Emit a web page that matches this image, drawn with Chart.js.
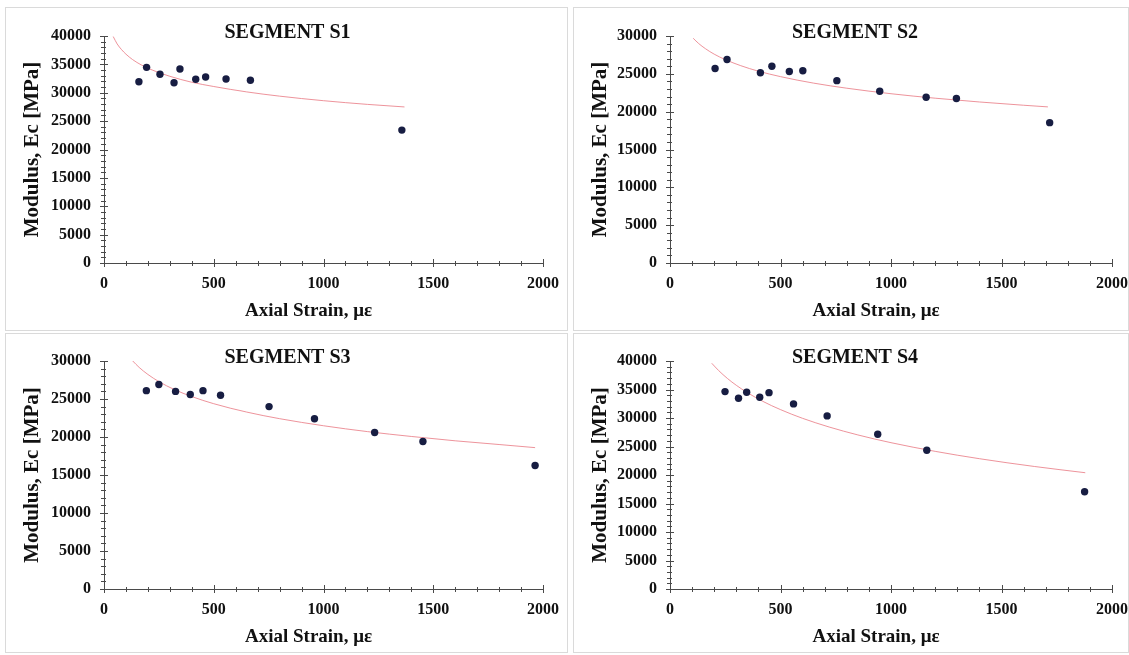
<!DOCTYPE html>
<html><head><meta charset="utf-8">
<script src="https://cdn.jsdelivr.net/npm/chart.js@4.4.0/dist/chart.umd.min.js"></script>
<style>
html,body{margin:0;padding:0;background:#fff;width:1129px;height:655px;overflow:hidden}
.panel{position:absolute;border:1px solid #dadada;box-sizing:border-box;background:#fff}
canvas{display:block}
</style></head><body>
<div class="panel" style="left:5px;top:7px;width:563px;height:324px"><canvas id="c1" width="561" height="322"></canvas></div>
<div class="panel" style="left:573px;top:7px;width:556px;height:324px"><canvas id="c2" width="554" height="322"></canvas></div>
<div class="panel" style="left:5px;top:333px;width:563px;height:320px"><canvas id="c3" width="561" height="318"></canvas></div>
<div class="panel" style="left:573px;top:333px;width:556px;height:320px"><canvas id="c4" width="554" height="318"></canvas></div>
<script>
// ---- data ----
const panelTitles = ['SEGMENT S1', 'SEGMENT S2', 'SEGMENT S3', 'SEGMENT S4'];
const xAxisTitle = 'Axial Strain, με';
const yAxisTitle = 'Modulus, Ec [MPa]';
const xTickLabels = ['0', '500', '1000', '1500', '2000'];
const yTickLabels40k = ['0', '5000', '10000', '15000', '20000', '25000', '30000', '35000', '40000'];
const yTickLabels30k = ['0', '5000', '10000', '15000', '20000', '25000', '30000'];

// Segment S1
const s1Strain  = [159, 194, 255, 319, 346, 418, 463, 556, 667, 1357];
const s1Modulus = [31950, 34480, 33250, 31770, 34180, 32370, 32780, 32420, 32190, 23420];
const s1FitStrain  = [42, 60, 80, 100, 130, 170, 220, 300, 400, 500, 650, 800, 1000, 1200, 1369];
const s1FitModulus = [39900, 38600, 37600, 36800, 35850, 34900, 34000, 32900, 31850, 31100, 30150, 29400, 28600, 27950, 27500];

// Segment S2
const s2Strain  = [204, 258, 409, 461, 540, 601, 755, 949, 1159, 1296, 1718];
const s2Modulus = [25700, 26900, 25150, 26000, 25300, 25400, 24100, 22700, 21900, 21750, 18550];
const s2FitStrain  = [105, 130, 160, 200, 250, 320, 400, 500, 650, 800, 1000, 1200, 1400, 1600, 1710];
const s2FitModulus = [29700, 29000, 28330, 27600, 26880, 26080, 25350, 24630, 23770, 23100, 22370, 21780, 21280, 20850, 20630];

// Segment S3
const s3Strain  = [193, 250, 326, 393, 451, 531, 752, 959, 1233, 1453, 1964];
const s3Modulus = [26100, 26900, 26000, 25600, 26100, 25500, 24000, 22400, 20600, 19400, 16250];
const s3FitStrain  = [131, 160, 200, 250, 320, 400, 500, 650, 800, 1000, 1200, 1400, 1600, 1800, 1964];
const s3FitModulus = [30000, 29160, 28230, 27290, 26250, 25320, 24380, 23280, 22410, 21480, 20710, 20070, 19500, 19010, 18600];

// Segment S4
const s4Strain  = [249, 310, 347, 406, 448, 559, 711, 940, 1162, 1876];
const s4Modulus = [34630, 33460, 34510, 33630, 34450, 32470, 30370, 27150, 24350, 17050];
const s4FitStrain  = [189, 220, 260, 300, 350, 420, 500, 600, 720, 850, 1000, 1200, 1400, 1650, 1879];
const s4FitModulus = [39600, 38330, 36930, 35740, 34450, 32920, 31470, 29940, 28420, 27030, 25670, 24150, 22860, 21490, 20400];

// ---- drawing ----
const SERIF = '"Liberation Serif", "Times New Roman", serif';
const AXIS_COLOR = '#4a4a4a';

const decoPlugin = {
  id: 'panelDeco',
  afterDraw(chart, args, opts) {
    const {ctx, chartArea: a, scales: {x, y}} = chart;
    ctx.save();
    ctx.strokeStyle = AXIS_COLOR;
    ctx.lineWidth = 1;
    // x tick marks (major every 500, minor every 100)
    for (let v = x.min; v <= x.max; v += opts.xMinor) {
      const px = Math.round(x.getPixelForValue(v)) + 0.5;
      const major = v % opts.xMajor === 0;
      ctx.beginPath();
      ctx.moveTo(px, a.bottom - (major ? 4 : 2));
      ctx.lineTo(px, a.bottom + (major ? 4 : 3));
      ctx.stroke();
    }
    // y tick marks (major every 5000, minor every 1000)
    for (let v = y.min; v <= y.max; v += opts.yMinor) {
      const py = Math.round(y.getPixelForValue(v)) + 0.5;
      const major = v % opts.yMajor === 0;
      ctx.beginPath();
      ctx.moveTo(a.left - (major ? 4 : 3), py);
      ctx.lineTo(a.left + (major ? 4 : 2), py);
      ctx.stroke();
    }
    ctx.fillStyle = '#111';
    ctx.textAlign = 'center';
    ctx.textBaseline = 'middle';
    const cx = (a.left + a.right) / 2;
    ctx.font = 'bold 20px ' + SERIF;
    ctx.fillText(opts.title, cx - 36, a.top - 3);
    ctx.font = 'bold 19px ' + SERIF;
    ctx.fillText(xAxisTitle, cx - 15, a.bottom + 48);
    ctx.translate(27, (a.top + a.bottom) / 2);
    ctx.rotate(-Math.PI / 2);
    ctx.font = 'bold 21px ' + SERIF;
    ctx.fillText(yAxisTitle, 0, 0);
    ctx.restore();
  }
};

function toPts(xs, ys) { return xs.map((v, i) => ({x: v, y: ys[i]})); }

function makeChart(id, c) {
  return new Chart(document.getElementById(id), {
    type: 'scatter',
    data: {
      datasets: [
        { data: toPts(c.ptX, c.ptY), pointRadius: 3.7, pointBackgroundColor: '#171d42',
          pointBorderColor: '#171d42', pointBorderWidth: 0, showLine: false, order: 1 },
        { data: toPts(c.fitX, c.fitY), showLine: true, borderColor: 'rgba(232,120,130,0.8)',
          borderWidth: 1, pointRadius: 0, cubicInterpolationMode: 'monotone', fill: false, order: 2 }
      ]
    },
    options: {
      responsive: false, animation: false, events: [],
      layout: { padding: { left: 0, top: c.top, right: c.right, bottom: 0 } },
      plugins: {
        legend: { display: false }, tooltip: { enabled: false }, title: { display: false },
        panelDeco: { title: c.title, xMinor: 100, xMajor: 500, yMinor: 1000, yMajor: 5000 }
      },
      scales: {
        x: {
          type: 'linear', position: 'bottom', min: 0, max: 2000,
          ticks: { stepSize: 500, padding: 11, color: '#111', maxRotation: 0, autoSkip: false,
                   font: { family: SERIF, size: 16, weight: 'bold' },
                   callback: (v) => xTickLabels[Math.round(v / 500)] },
          grid: { display: false, drawTicks: false },
          border: { display: true, color: AXIS_COLOR, width: 1 },
          afterFit: (s) => { s.height = c.xh; s.paddingLeft = 0; s.paddingRight = 0; }
        },
        y: {
          type: 'linear', position: 'left', min: 0, max: c.ymax,
          ticks: { stepSize: 5000, padding: 13, color: '#111',
                   font: { family: SERIF, size: 16, weight: 'bold' },
                   callback: (v) => c.yLabels[Math.round(v / 5000)] },
          grid: { display: false, drawTicks: false },
          border: { display: true, color: AXIS_COLOR, width: 1 },
          afterFit: (s) => { s.width = c.yw; s.paddingTop = 0; s.paddingBottom = 0; }
        }
      }
    },
    plugins: [decoPlugin]
  });
}

makeChart('c1', { title: panelTitles[0], ptX: s1Strain, ptY: s1Modulus, fitX: s1FitStrain, fitY: s1FitModulus,
  ymax: 40000, yLabels: yTickLabels40k, top: 28, right: 24, xh: 67, yw: 98 });
makeChart('c2', { title: panelTitles[1], ptX: s2Strain, ptY: s2Modulus, fitX: s2FitStrain, fitY: s2FitModulus,
  ymax: 30000, yLabels: yTickLabels30k, top: 28, right: 16, xh: 67, yw: 96 });
makeChart('c3', { title: panelTitles[2], ptX: s3Strain, ptY: s3Modulus, fitX: s3FitStrain, fitY: s3FitModulus,
  ymax: 30000, yLabels: yTickLabels30k, top: 27, right: 24, xh: 63, yw: 98 });
makeChart('c4', { title: panelTitles[3], ptX: s4Strain, ptY: s4Modulus, fitX: s4FitStrain, fitY: s4FitModulus,
  ymax: 40000, yLabels: yTickLabels40k, top: 27, right: 16, xh: 63, yw: 96 });
</script>
</body></html>
